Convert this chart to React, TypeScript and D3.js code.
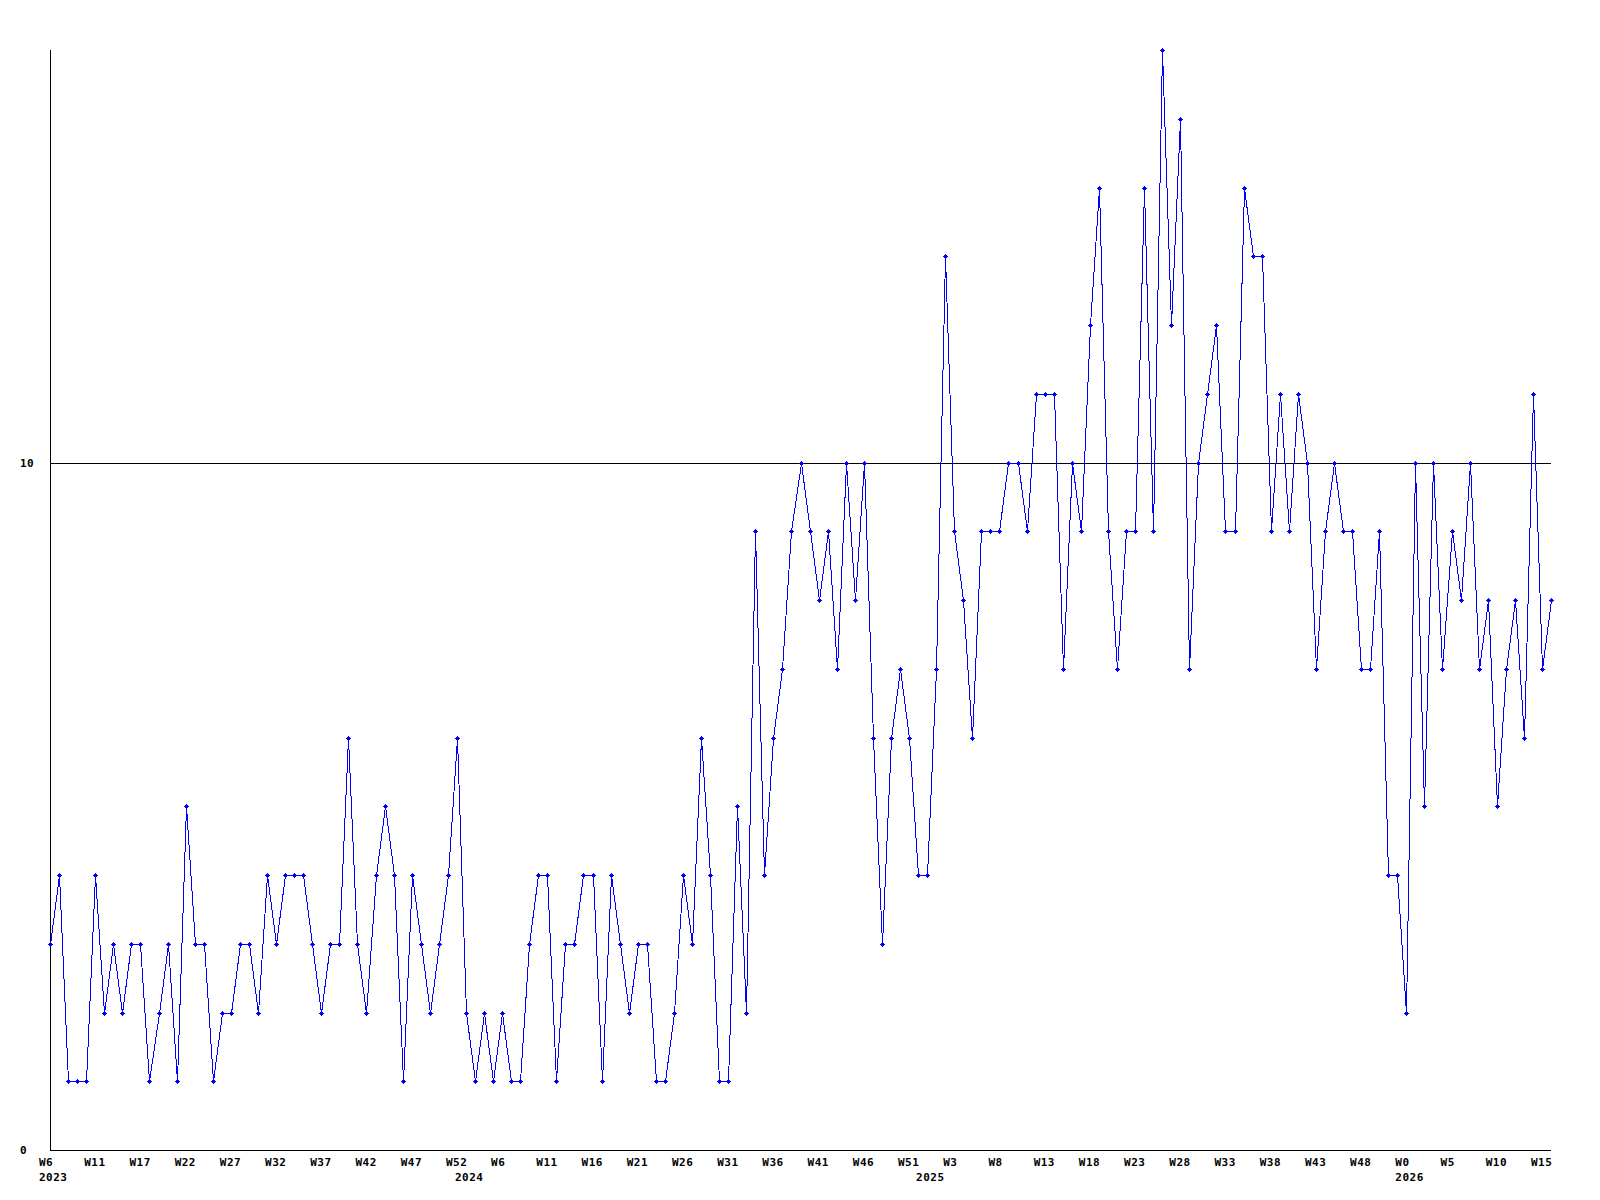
import React from "react";
import * as d3 from "d3";

// weekly values, one per point
const values: number[] = [
  3, 4, 1, 1, 1, 4, 2, 3, 2, 3,
  3, 1, 2, 3, 1, 5, 3, 3, 1, 2,
  2, 3, 3, 2, 4, 3, 4, 4, 4, 3,
  2, 3, 3, 6, 3, 2, 4, 5, 4, 1,
  4, 3, 2, 3, 4, 6, 2, 1, 2, 1,
  2, 1, 1, 3, 4, 4, 1, 3, 3, 4,
  4, 1, 4, 3, 2, 3, 3, 1, 1, 2,
  4, 3, 6, 4, 1, 1, 5, 2, 9, 4,
  6, 7, 9, 10, 9, 8, 9, 7, 10, 8,
  10, 6, 3, 6, 7, 6, 4, 4, 7, 13,
  9, 8, 6, 9, 9, 9, 10, 10, 9, 11,
  11, 11, 7, 10, 9, 12, 14, 9, 7, 9,
  9, 14, 9, 16, 12, 15, 7, 10, 11, 12,
  9, 9, 14, 13, 13, 9, 11, 9, 11, 10,
  7, 9, 10, 9, 9, 7, 7, 9, 4, 4,
  2, 10, 5, 10, 7, 9, 8, 10, 7, 8,
  5, 7, 8, 6, 11, 7, 8,
];

// week labels every 5 points
const weekLabels: string[] = [
  "W6", "W11", "W17", "W22", "W27", "W32", "W37", "W42", "W47", "W52",
  "W6", "W11", "W16", "W21", "W26", "W31", "W36", "W41", "W46", "W51",
  "W3", "W8", "W13", "W18", "W23", "W28", "W33", "W38", "W43", "W48",
  "W0", "W5", "W10", "W15",
];
const weekStep = 5;

const yearIndex: number[] = [0, 46, 97, 150];
const yearNames: string[] = ["2023", "2024", "2025", "2026"];

const yTicks: number[] = [0, 10];
const yMax = 16;

const W = 1600;
const H = 1200;
const left = 50;
const right = 1551;
const top = 50;
const bottom = 1150;

const font = "'DejaVu Sans Mono', monospace";

export default function App() {
  const x = d3.scaleLinear().domain([0, values.length - 1]).range([left, right]);
  const y = d3.scaleLinear().domain([0, yMax]).range([bottom, top]);
  const line = d3
    .line<number>()
    .x((_, i) => Math.round(x(i)) + 0.5)
    .y((d) => Math.round(y(d)) + 0.5);

  // plus-shaped marker: 5px arms, 3x3 centre
  const plus = (px: number, py: number) => {
    const cx = Math.round(px);
    const cy = Math.round(py);
    return (
      `M${cx - 2},${cy}h5v1h-5Z` +
      `M${cx},${cy - 2}h1v5h-1Z` +
      `M${cx - 1},${cy - 1}h3v3h-3Z`
    );
  };

  const textProps = {
    fontFamily: font,
    fontWeight: "bold" as const,
    fontSize: 11,
    letterSpacing: 0.5,
    fill: "#000",
  };

  return (
    <svg
      width={W}
      height={H}
      style={{ position: "absolute", left: 0, top: 0, background: "#fff" }}
    >
      <rect x={0} y={0} width={W} height={H} fill="#fff" />
      {/* axes */}
      <line x1={left + 0.5} x2={left + 0.5} y1={top} y2={bottom} stroke="#000" strokeWidth={1} shapeRendering="crispEdges" />
      {yTicks.map((t) => (
        <g key={t}>
          <line
            x1={left}
            x2={right}
            y1={Math.round(y(t)) + 0.5}
            y2={Math.round(y(t)) + 0.5}
            stroke="#000"
            strokeWidth={1}
            shapeRendering="crispEdges"
          />
          <text x={20} y={y(t) + 4} {...textProps}>
            {t}
          </text>
        </g>
      ))}
      {/* x labels */}
      {weekLabels.map((lab, k) => (
        <text key={"w" + k} x={x(k * weekStep) - 11} y={1166} {...textProps}>
          {lab}
        </text>
      ))}
      {yearIndex.map((idx, k) => (
        <text key={"y" + k} x={x(idx) - 11} y={1181} {...textProps}>
          {yearNames[k]}
        </text>
      ))}
      {/* series */}
      <path
        d={line(values) || ""}
        fill="none"
        stroke="#0000ff"
        strokeWidth={1}
        shapeRendering="crispEdges"
      />
      <path
        d={values.map((v, i) => plus(x(i), y(v))).join("")}
        fill="#0000ff"
        shapeRendering="crispEdges"
      />
    </svg>
  );
}
